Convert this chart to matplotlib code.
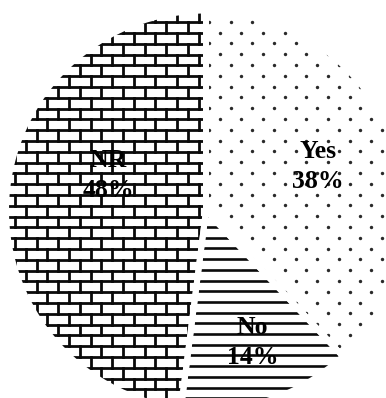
import numpy as np
import matplotlib
matplotlib.use('Agg')
import matplotlib.pyplot as plt
from matplotlib.collections import LineCollection
from matplotlib.patches import Wedge

categories = ['Yes', 'No', 'NR']
values = [38, 14, 48]
pct_labels = ['38%', '14%', '48%']

W, H = 386, 398
fig = plt.figure(figsize=(W / 100, H / 100), dpi=100)
ax = fig.add_axes([0, 0, 1, 1])

R_px = 200.0
cx, cy = 206.0, 210.5

def px(x, y):
    return (x - cx) / R_px, (cy - y) / R_px

wedges, _ = ax.pie(values, startangle=90, counterclock=False, radius=1,
                   colors=['white'] * 3,
                   wedgeprops=dict(edgecolor='none', linewidth=0))

# --- pattern helpers (pixel units converted to data units)
row_h = 10.8
brick_w = 21.6

# Brick pattern for NR
nr = wedges[2]
segs = []
y0 = 151.7 - row_h * 20
for k in range(45):
    yp = y0 + k * row_h
    segs.append([px(-20, yp), px(W + 20, yp)])
    off = 15.0 if k % 2 == 0 else 15.0 - brick_w / 2
    for m in range(-2, 22):
        xp = off + m * brick_w
        segs.append([px(xp, yp), px(xp, yp + row_h)])
lc = LineCollection(segs, colors='#0a0a0a', linewidths=2.0, zorder=2,
                    capstyle='projecting')
lc.set_clip_path(nr)
ax.add_collection(lc)

# Dot pattern for Yes
yes = wedges[0]
xs, ys = [], []
for k in range(-2, 40):
    yp = 21.7 + (k) * row_h
    off = 230.7 if k % 2 == 0 else 230.7 - brick_w / 2
    for m in range(-12, 12):
        xp = off + m * brick_w
        dx, dy = px(xp, yp)
        xs.append(dx)
        ys.append(dy)
sc = ax.scatter(xs, ys, s=6, c='#2a2a2a', linewidths=0, zorder=2)
sc.set_clip_path(yes)

# Horizontal lines for No
no = wedges[1]
segs2 = []
for k in range(-30, 30):
    yp = 334 + k * 10.7
    segs2.append([px(-20, yp), px(W + 20, yp)])
lc2 = LineCollection(segs2, colors='#0a0a0a', linewidths=1.9, zorder=2)
lc2.set_clip_path(no)
ax.add_collection(lc2)

# White separating outlines
for w in wedges:
    ax.add_patch(Wedge(w.center, w.r, w.theta1, w.theta2, fill=False,
                       edgecolor='white', linewidth=4.3, zorder=4))

# Labels
radial = [0.6, 0.7, 0.52]
ang_off = [0, 1.5, -16]
for w, cat, pct, rf, ao in zip(wedges, categories, pct_labels, radial, ang_off):
    th = np.deg2rad((w.theta1 + w.theta2) / 2 + ao)
    ax.text(rf * np.cos(th), rf * np.sin(th), f'{cat}\n{pct}',
            ha='center', va='center', fontsize=18.5, fontweight='bold',
            family='Liberation Serif', color='black', linespacing=1.4,
            zorder=6)

ax.set_xlim((0 - cx) / R_px, (W - cx) / R_px)
ax.set_ylim((cy - H) / R_px, cy / R_px)
ax.set_aspect('auto')
ax.axis('off')

fig.savefig('out.png', dpi=100)
